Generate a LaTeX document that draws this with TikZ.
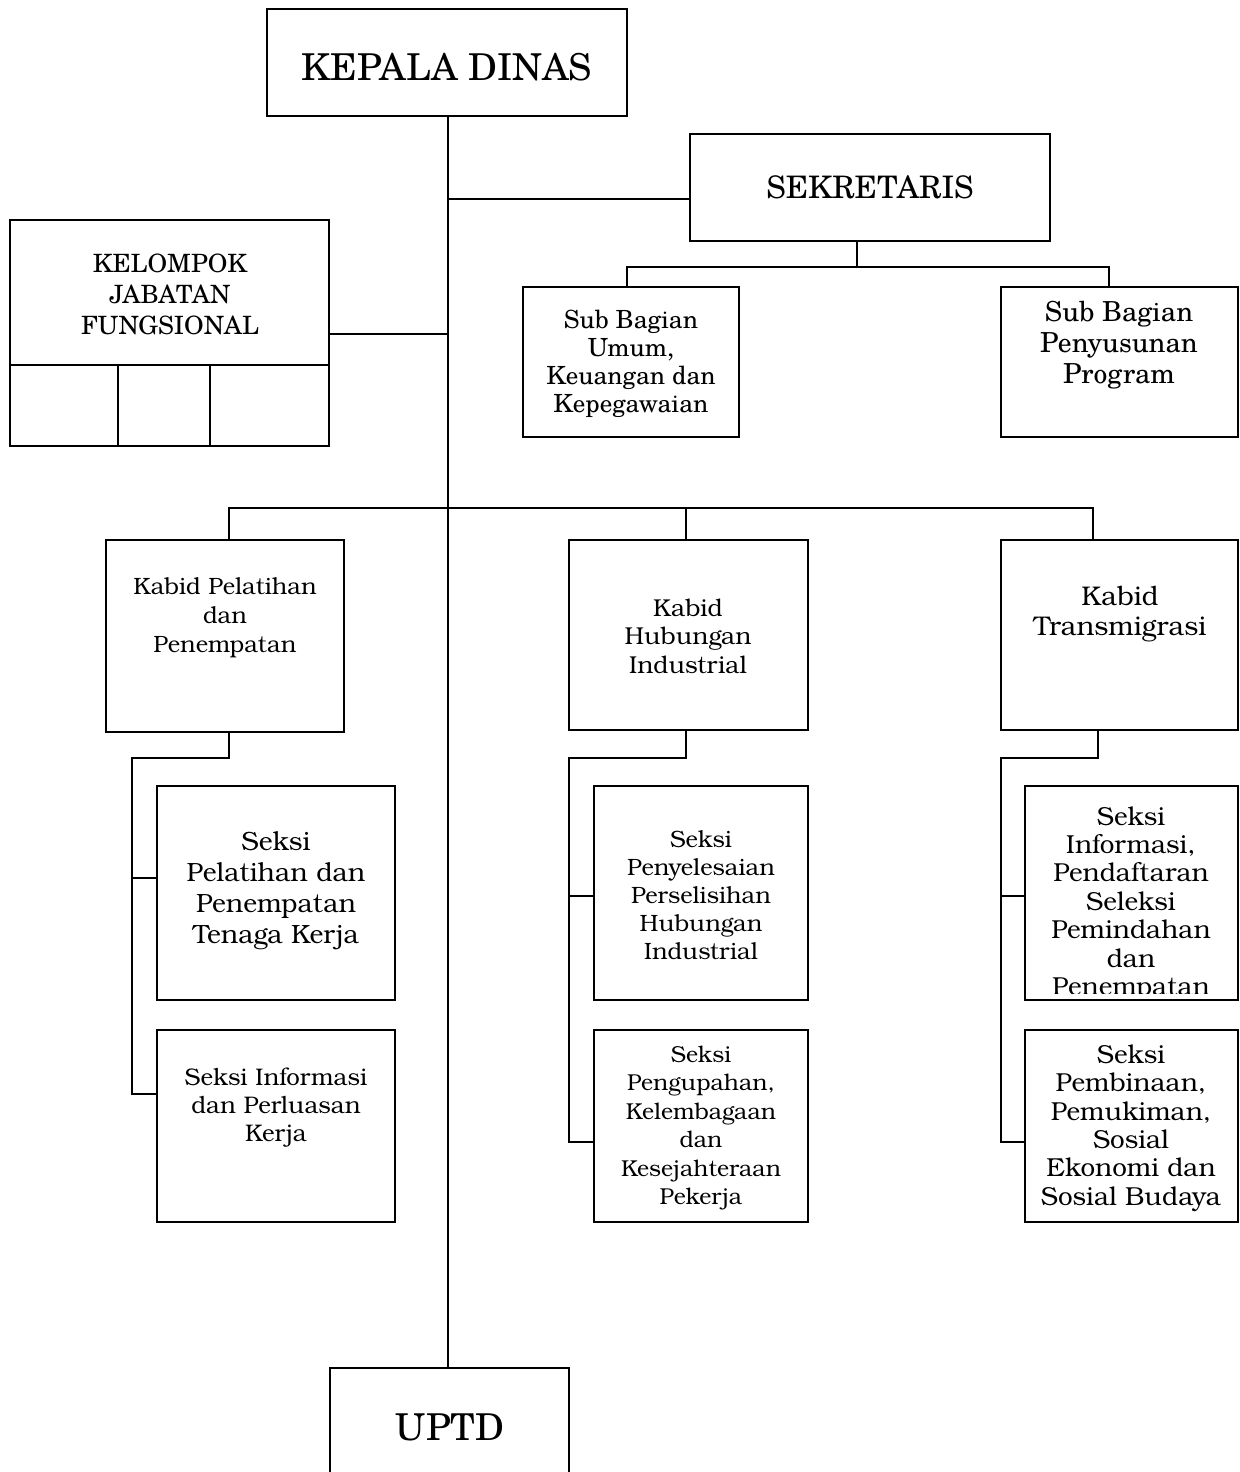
\documentclass[tikz,border=0pt]{standalone}
\usepackage{fontspec}
\newfontfamily\schola{TeX Gyre Schola}
\newfontfamily\bonum{TeX Gyre Bonum}
\tikzset{
  box/.style={draw, line width=1pt, inner sep=0pt, outer sep=0pt, anchor=north west},
  lbl/.style={align=center, inner sep=0pt},
  conn/.style={line width=1pt, line cap=rect},
}
\newcommand\mybox[5]{\node[box, minimum width={(#4-#2)*0.5pt}, minimum height={(#5-#3)*0.5pt}] (#1) at (#2,#3) {};}
\newcommand\sz[2]{\fontsize{#1pt}{#2pt}\selectfont}
\begin{document}
\begin{tikzpicture}[x=0.5pt,y=-0.5pt]
\useasboundingbox (0,0) rectangle (1240,1472);
% boxes
\mybox{kd}{267}{9}{627}{116}
\mybox{sek}{690}{134}{1050}{241}
\mybox{sbu}{523}{287}{739}{437}
\mybox{sbp}{1001}{287}{1238}{437}
\mybox{kjf}{10}{220}{329}{446}
\mybox{kbp}{106}{540}{344}{732}
\mybox{kbh}{569}{540}{808}{730}
\mybox{kbt}{1001}{540}{1238}{730}
\mybox{sp1}{157}{786}{395}{1000}
\mybox{sp2}{157}{1030}{395}{1222}
\mybox{sh1}{594}{786}{808}{1000}
\mybox{sh2}{594}{1030}{808}{1222}
\mybox{st1}{1025}{786}{1238}{1000}
\mybox{st2}{1025}{1030}{1238}{1222}
\mybox{uptd}{330}{1368}{569}{1490}
% KJF inner cells
\coordinate (kjfl) at (10,365);
\coordinate (kjfr) at (329,365);
\coordinate (kjfa) at (118,365);
\coordinate (kjfb) at (210,365);
\draw[conn] (kjfl) -- (kjfr);
\draw[conn] (kjfa) -- (kjfa |- kjf.south);
\draw[conn] (kjfb) -- (kjfb |- kjf.south);
% texts
\node[lbl, font={\schola\sz{18.5}{22}}] (t-kd) at (447,67) {KEPALA DINAS};
\node[lbl, font={\schola\sz{15.5}{18}}] (t-sek) at (870,187) {SEKRETARIS};
\node[lbl, font={\schola\sz{12.5}{14}}] (t-sbu) at (631,364) {Sub Bagian\\Umum,\\Keuangan dan\\Kepegawaian};
\node[lbl, font={\schola\sz{13.8}{15.5}}] (t-sbp) at (1119,345) {Sub Bagian\\Penyusunan\\Program};
\node[lbl, font={\schola\sz{12.6}{15.5}}] (t-kjf) at (170,294) {KELOMPOK\\JABATAN\\FUNGSIONAL};
\node[lbl, font={\schola\sz{18.5}{22}}] (t-uptd) at (450,1427) {UPTD};
\node[lbl, font={\bonum\sz{11.8}{14.5}}] (t-kbp) at (225,618) {Kabid Pelatihan\\dan\\Penempatan};
\node[lbl, font={\bonum\sz{12.2}{14.3}}] (t-kbh) at (688,636) {Kabid\\Hubungan\\Industrial};
\node[lbl, font={\bonum\sz{13.5}{15}}] (t-kbt) at (1120,614) {Kabid\\Transmigrasi};
\node[lbl, font={\bonum\sz{13.2}{15.5}}] (t-sp1) at (276,891) {Seksi\\Pelatihan dan\\Penempatan\\Tenaga Kerja};
\node[lbl, font={\bonum\sz{12}{14}}] (t-sp2) at (276,1108) {Seksi Informasi\\dan Perluasan\\Kerja};
\node[lbl, font={\bonum\sz{11.8}{14}}] (t-sh1) at (701,895) {Seksi\\Penyelesaian\\Perselisihan\\Hubungan\\Industrial};
\node[lbl, font={\bonum\sz{11.5}{14.2}}] (t-sh2) at (701,1128) {Seksi\\Pengupahan,\\Kelembagaan\\dan\\Kesejahteraan\\Pekerja};
\begin{scope}
\clip (1025,786) rectangle (1238,993);
\node[lbl, font={\bonum\sz{13}{14.2}}] (t-st1) at (1131,904) {Seksi\\Informasi,\\Pendaftaran\\Seleksi\\Pemindahan\\dan\\Penempatan};
\end{scope}
\node[lbl, font={\bonum\sz{13}{14.2}}] (t-st2) at (1131,1128) {Seksi\\Pembinaan,\\Pemukiman,\\Sosial\\Ekonomi dan\\Sosial Budaya};
% junction coordinates
\coordinate (spine) at (448,116);
\coordinate (jsek) at (448,199);
\coordinate (sekin) at (690,199);
\coordinate (jkjf) at (448,334);
\coordinate (kjfout) at (329,334);
\coordinate (sekout) at (857,241);
\coordinate (sekbar) at (857,267);
\coordinate (sbuin) at (627,287);
\coordinate (sbpin) at (1109,287);
\coordinate (bar) at (448,508);
\coordinate (kbpin) at (229,540);
\coordinate (kbhin) at (686,540);
\coordinate (kbtin) at (1093,540);
\coordinate (kbpout) at (229,732);
\coordinate (lrail) at (132,758);
\coordinate (sp1in) at (157,878);
\coordinate (sp2in) at (157,1094);
\coordinate (kbhout) at (686,730);
\coordinate (mrail) at (569,758);
\coordinate (sh1in) at (594,896);
\coordinate (sh2in) at (594,1142);
\coordinate (kbtout) at (1098,730);
\coordinate (rrail) at (1001,758);
\coordinate (st1in) at (1025,896);
\coordinate (st2in) at (1025,1142);
\coordinate (uptdin) at (448,1368);
% connectors
\draw[conn] (spine) -- (uptdin);
\draw[conn] (jsek) -- (sekin);
\draw[conn] (kjfout) -- (jkjf);
\draw[conn] (sekout) -- (sekbar);
\draw[conn] (sbuin) |- (sbpin |- sekbar) -- (sbpin);
\draw[conn] (kbpin) |- (kbtin |- bar) -- (kbtin);
\draw[conn] (kbhin) -- (kbhin |- bar);
\draw[conn] (kbpout) |- (lrail) |- (sp2in);
\draw[conn] (lrail |- sp1in) -- (sp1in);
\draw[conn] (kbhout) |- (mrail) |- (sh2in);
\draw[conn] (mrail |- sh1in) -- (sh1in);
\draw[conn] (kbtout) |- (rrail) |- (st2in);
\draw[conn] (rrail |- st1in) -- (st1in);
\end{tikzpicture}
\end{document}
